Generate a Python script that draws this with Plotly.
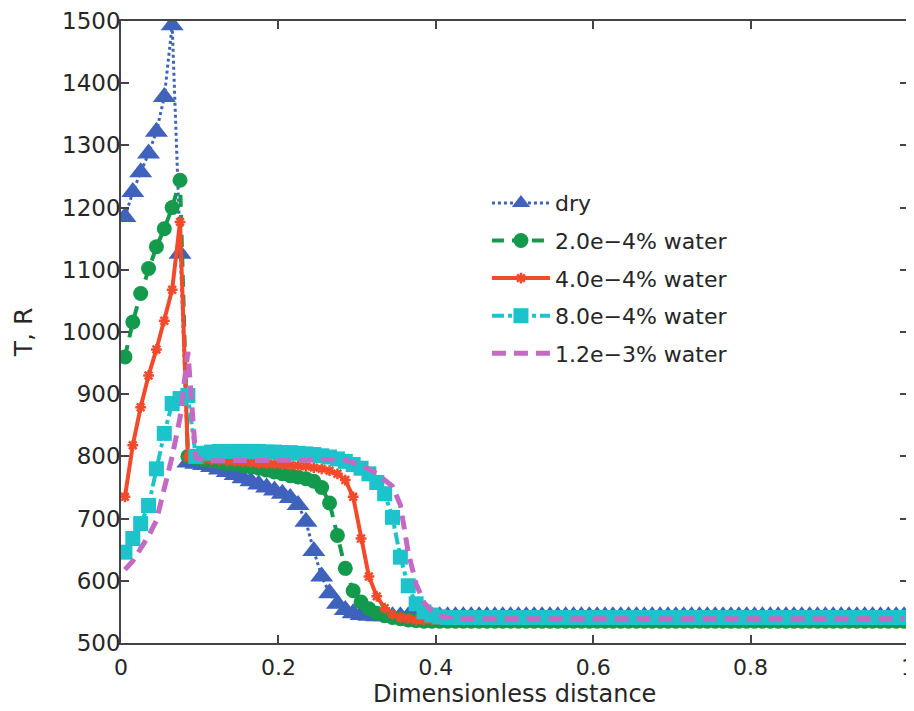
import plotly.graph_objects as go

# grid positions (cell centres, dimensionless distance)
x_pos = [0.005, 0.015, 0.025, 0.035, 0.045, 0.055, 0.065, 0.075, 0.085, 0.095,
         0.105, 0.115, 0.125, 0.135, 0.145, 0.155, 0.165, 0.175, 0.185, 0.195,
         0.205, 0.215, 0.225, 0.235, 0.245, 0.255, 0.265, 0.275, 0.285, 0.295,
         0.305, 0.315, 0.325, 0.335, 0.345, 0.355, 0.365, 0.375, 0.385, 0.395,
         0.405, 0.415, 0.425, 0.435, 0.445, 0.455, 0.465, 0.475, 0.485, 0.495,
         0.505, 0.515, 0.525, 0.535, 0.545, 0.555, 0.565, 0.575, 0.585, 0.595,
         0.605, 0.615, 0.625, 0.635, 0.645, 0.655, 0.665, 0.675, 0.685, 0.695,
         0.705, 0.715, 0.725, 0.735, 0.745, 0.755, 0.765, 0.775, 0.785, 0.795,
         0.805, 0.815, 0.825, 0.835, 0.845, 0.855, 0.865, 0.875, 0.885, 0.895,
         0.905, 0.915, 0.925, 0.935, 0.945, 0.955, 0.965, 0.975, 0.985, 0.995]

T_dry = [1185, 1225, 1257, 1287, 1322, 1378, 1493, 1126, 790, 788,
         786, 783, 779, 775, 770, 765, 760, 755, 750, 745,
         740, 733, 722, 695, 648, 607, 580, 563, 553, 548,
         545, 544, 543, 543, 543, 543, 543, 543, 543, 543,
         543, 543, 543, 543, 543, 543, 543, 543, 543, 543,
         543, 543, 543, 543, 543, 543, 543, 543, 543, 543,
         543, 543, 543, 543, 543, 543, 543, 543, 543, 543,
         543, 543, 543, 543, 543, 543, 543, 543, 543, 543,
         543, 543, 543, 543, 543, 543, 543, 543, 543, 543,
         543, 543, 543, 543, 543, 543, 543, 543, 543, 543]

T_w2e4 = [960, 1016, 1062, 1102, 1137, 1166, 1200, 1244, 800, 797,
          795, 793, 791, 789, 787, 785, 783, 781, 778, 775,
          772, 769, 767, 764, 760, 750, 725, 673, 620, 584,
          566, 555, 548, 544, 541, 539, 537, 536, 535, 535,
          535, 535, 535, 535, 535, 535, 535, 535, 535, 535,
          535, 535, 535, 535, 535, 535, 535, 535, 535, 535,
          535, 535, 535, 535, 535, 535, 535, 535, 535, 535,
          535, 535, 535, 535, 535, 535, 535, 535, 535, 535,
          535, 535, 535, 535, 535, 535, 535, 535, 535, 535,
          535, 535, 535, 535, 535, 535, 535, 535, 535, 535]

T_w4e4 = [735, 818, 879, 930, 972, 1018, 1068, 1177, 799, 797,
          796, 795, 794, 793, 792, 791, 790, 789, 788, 788,
          787, 786, 785, 784, 782, 780, 777, 772, 762, 735,
          668, 607, 575, 556, 546, 541, 539, 537, 537, 537,
          537, 537, 537, 537, 537, 537, 537, 537, 537, 537,
          537, 537, 537, 537, 537, 537, 537, 537, 537, 537,
          537, 537, 537, 537, 537, 537, 537, 537, 537, 537,
          537, 537, 537, 537, 537, 537, 537, 537, 537, 537,
          537, 537, 537, 537, 537, 537, 537, 537, 537, 537,
          537, 537, 537, 537, 537, 537, 537, 537, 537, 537]

T_w8e4 = [646, 668, 692, 721, 780, 837, 885, 893, 898, 800,
          805, 807, 808, 808, 808, 808, 808, 808, 807, 807,
          806, 806, 805, 804, 803, 801, 799, 796, 792, 787,
          781, 772, 758, 740, 702, 638, 592, 563, 550, 545,
          542, 541, 541, 541, 541, 541, 541, 541, 541, 541,
          541, 541, 541, 541, 541, 541, 541, 541, 541, 541,
          541, 541, 541, 541, 541, 541, 541, 541, 541, 541,
          541, 541, 541, 541, 541, 541, 541, 541, 541, 541,
          541, 541, 541, 541, 541, 541, 541, 541, 541, 541,
          541, 541, 541, 541, 541, 541, 541, 541, 541, 541]

T_w12e3 = [618, 632, 652, 672, 697, 745, 800, 862, 968, 798,
           794, 793, 793, 793, 793, 793, 792, 792, 792, 792,
           792, 792, 792, 793, 794, 795, 795, 795, 794, 790,
           786, 780, 772, 763, 752, 722, 645, 595, 565, 551,
           544, 541, 539, 539, 539, 539, 539, 539, 539, 539,
           539, 539, 539, 539, 539, 539, 539, 539, 539, 539,
           539, 539, 539, 539, 539, 539, 539, 539, 539, 539,
           539, 539, 539, 539, 539, 539, 539, 539, 539, 539,
           539, 539, 539, 539, 539, 539, 539, 539, 539, 539,
           539, 539, 539, 539, 539, 539, 539, 539, 539, 539]

series_names = ["dry", "2.0e\u22124% water", "4.0e\u22124% water",
                "8.0e\u22124% water", "1.2e\u22123% water"]

x_ticks = [0, 0.2, 0.4, 0.6, 0.8, 1]
y_ticks = [500, 600, 700, 800, 900, 1000, 1100, 1200, 1300, 1400, 1500]

x_title = "Dimensionless distance"
y_title = "T, R"

FONT = "DejaVu Sans"
TXT = "#262626"

fig = go.Figure()

fig.add_trace(go.Scatter(
    x=x_pos, y=T_dry, name=series_names[0], mode="lines+markers",
    line=dict(color="#3f62bd", width=3, dash="dot"),
    marker=dict(symbol="triangle-up", size=20, color="#3f62bd",
                line=dict(width=0)),
    legendgroup="g1"))

fig.add_trace(go.Scatter(
    x=x_pos, y=T_w2e4, name=series_names[1], mode="lines+markers",
    line=dict(color="#139a4c", width=4, dash="12px,8px"),
    marker=dict(symbol="circle", size=15, color="#139a4c",
                line=dict(width=0)),
    legendgroup="g2"))

fig.add_trace(go.Scatter(
    x=x_pos, y=T_w4e4, name=series_names[2], mode="lines+markers",
    line=dict(color="#f24a2b", width=4),
    marker=dict(symbol="asterisk", size=9, color="#f24a2b",
                line=dict(width=2.5, color="#f24a2b")),
    legendgroup="g3"))

fig.add_trace(go.Scatter(
    x=x_pos, y=T_w8e4, name=series_names[3], mode="lines+markers",
    line=dict(color="#1cc3cb", width=4, dash="dashdot"),
    marker=dict(symbol="square", size=15, color="#1cc3cb",
                line=dict(width=0)),
    legendgroup="g4"))

fig.add_trace(go.Scatter(
    x=x_pos, y=T_w12e3, name=series_names[4], mode="lines",
    line=dict(color="#c469c4", width=5, dash="14px,8px"),
    legendgroup="g5"))

axis_common = dict(
    showline=True, linecolor="#444444", linewidth=1.5, mirror="ticks",
    ticks="inside", ticklen=8, tickwidth=1.5, tickcolor="#444444",
    showgrid=False, zeroline=False, ticklabeloverflow="allow",
)

fig.update_xaxes(range=[0, 1], tickvals=x_ticks, ticklabelstandoff=4,
                 tickfont=dict(family=FONT, size=22, color=TXT),
                 **axis_common)
fig.update_yaxes(range=[500, 1500], tickvals=y_ticks, ticklabelstandoff=-6,
                 tickfont=dict(family=FONT, size=23, color=TXT),
                 title=dict(text=y_title,
                            font=dict(family=FONT, size=25, color=TXT),
                            standoff=22),
                 **axis_common)

# x-axis title placed just below the tick labels
fig.add_annotation(text=x_title, xref="paper", yref="paper",
                   x=0.5, y=-0.0825, xanchor="center", yanchor="middle",
                   showarrow=False,
                   font=dict(family=FONT, size=24, color=TXT))

# the page body adds an 8 px margin, so the figure is sized to fit the window
fig.update_layout(
    width=906, height=703,
    margin=dict(l=113, r=6, t=13, b=68, autoexpand=False),
    paper_bgcolor="white", plot_bgcolor="white",
    showlegend=True,
    legend=dict(x=0.465, y=0.741, xanchor="left", yanchor="top",
                bgcolor="rgba(0,0,0,0)", borderwidth=0,
                font=dict(family=FONT, size=22, color=TXT),
                itemwidth=58, tracegroupgap=6, itemsizing="trace",
                traceorder="grouped"),
)

fig.write_html("out.html")
